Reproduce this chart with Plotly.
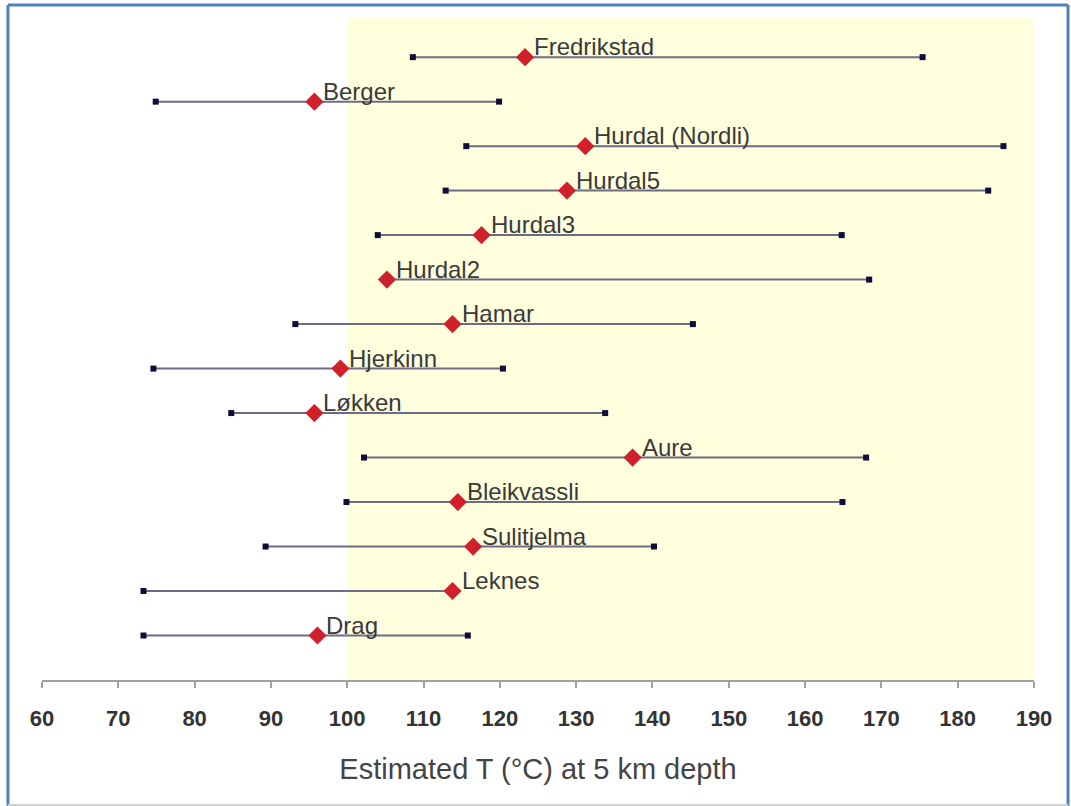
import plotly.graph_objects as go

sites = ["Fredrikstad", "Berger", "Hurdal (Nordli)", "Hurdal5", "Hurdal3", "Hurdal2",
         "Hamar", "Hjerkinn", "Løkken", "Aure", "Bleikvassli", "Sulitjelma", "Leknes", "Drag"]
t_min = [108.6, 74.9, 115.6, 112.9, 104.0, 105.2, 93.2, 74.6, 84.8, 102.2, 99.9, 89.3, 73.3, 73.3]
t_mean = [123.3, 95.7, 131.2, 128.8, 117.6, 105.2, 113.8, 99.1, 95.7, 137.4, 114.5, 116.5, 113.8, 96.1]
t_max = [175.4, 119.9, 186.0, 184.0, 164.8, 168.4, 145.3, 120.4, 133.8, 168.0, 164.9, 140.2, 113.8, 115.8]
x_ticks = list(range(60, 191, 10))
shade_range = [100, 190]

n = len(sites)
ypos = [n - i for i in range(n)]  # Fredrikstad on top

line_x, line_y = [], []
for lo, hi, y in zip(t_min, t_max, ypos):
    line_x += [lo, hi, None]
    line_y += [y, y, None]

fig = go.Figure()
fig.add_trace(go.Scatter(x=line_x, y=line_y, mode="lines",
                         line=dict(color="#6c6c84", width=2), hoverinfo="skip",
                         showlegend=False))
fig.add_trace(go.Scatter(x=t_min + t_max, y=ypos + ypos, mode="markers",
                         marker=dict(symbol="square", size=6, color="#0d0d3a"),
                         showlegend=False))
fig.add_trace(go.Scatter(x=t_mean, y=ypos, mode="markers", text=sites,
                         marker=dict(symbol="diamond", size=14, color="#d0202a"),
                         showlegend=False))

for name, m, y in zip(sites, t_mean, ypos):
    fig.add_annotation(x=m, y=y, text=name, showarrow=False, xanchor="left",
                       yanchor="bottom", xshift=7, yshift=-5,
                       font=dict(family="Liberation Sans, Arial", size=24, color="#3a3a3a"))

fig.add_shape(type="rect", xref="x", yref="paper", x0=shade_range[0], x1=shade_range[1],
              y0=0, y1=1, fillcolor="#FFFEDD", line=dict(width=0), layer="below")

# outer frame
bc = "#4f81bd"
fig.add_shape(type="line", xref="paper", yref="paper", x0=-0.0343, x1=-0.0343, y0=-0.19, y1=1.0196,
              line=dict(color=bc, width=3))
fig.add_shape(type="line", xref="paper", yref="paper", x0=-0.0343, x1=1.0343, y0=1.0196, y1=1.0196,
              line=dict(color=bc, width=3))
fig.add_shape(type="line", xref="paper", yref="paper", x0=1.0343, x1=1.0343, y0=-0.19, y1=1.0196,
              line=dict(color=bc, width=3))
fig.add_shape(type="line", xref="paper", yref="paper", x0=-0.0343, x1=1.0343, y0=-0.1888, y1=-0.1888,
              line=dict(color="#d0d0d0", width=2))

fig.update_layout(
    width=1071, height=806,
    margin=dict(l=42, r=37, t=18, b=126),
    paper_bgcolor="white", plot_bgcolor="white",
    font=dict(family="Liberation Sans, Arial"),
    xaxis=dict(range=[60, 190], tickvals=x_ticks, ticks="outside", ticklen=6,
               tickcolor="#a0a0a0", tickwidth=2, showline=True, linecolor="#a0a0a0",
               linewidth=2, showgrid=False, zeroline=False,
               tickfont=dict(size=22, color="#333333", family="Liberation Sans, Arial",
                             weight="bold"),
               ticklabelstandoff=12,
               title=dict(text="Estimated T (°C) at 5 km depth", standoff=28,
                          font=dict(size=29, color="#444444"))),
    yaxis=dict(range=[0, 14.88], visible=False, showgrid=False, zeroline=False),
)

fig.write_html("out.html")
